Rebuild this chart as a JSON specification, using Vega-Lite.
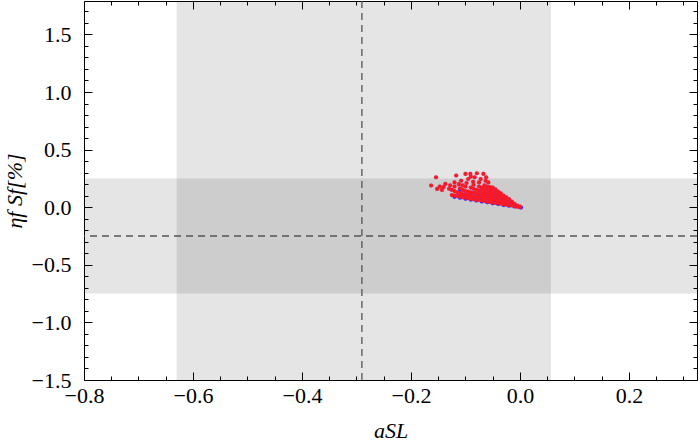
{
  "$schema": "https://vega.github.io/schema/vega-lite/v6.json",
  "width": 613,
  "height": 379,
  "autosize": {"type": "none"},
  "padding": {"left": 84, "top": 1, "right": 3, "bottom": 65},
  "config": {
    "view": {"stroke": "black", "strokeWidth": 1},
    "axis": {
      "domain": false, "grid": false,
      "labelFont": "Liberation Serif", "labelFontSize": 22, "labelColor": "black",
      "tickColor": "black", "tickWidth": 1,
      "titleFont": "Liberation Serif", "titleFontWeight": "normal", "titleColor": "black", "titleFontSize": 22
    }
  },
  "datasets": {
    "bands": [
      {"x1": -0.63, "x2": 0.057, "y1": -1.5, "y2": 1.79},
      {"x1": -0.8, "x2": 0.325, "y1": -0.75, "y2": 0.25}
    ],
    "pts": [
      {"x": -0.12, "y": 0.09, "s": "blue"}, {"x": -0.11, "y": 0.082, "s": "blue"}, {"x": -0.1, "y": 0.074, "s": "blue"},
      {"x": -0.09, "y": 0.066, "s": "blue"}, {"x": -0.08, "y": 0.058, "s": "blue"}, {"x": -0.07, "y": 0.05, "s": "blue"},
      {"x": -0.06, "y": 0.043, "s": "blue"}, {"x": -0.05, "y": 0.035, "s": "blue"}, {"x": -0.04, "y": 0.028, "s": "blue"},
      {"x": -0.03, "y": 0.02, "s": "blue"}, {"x": -0.02, "y": 0.013, "s": "blue"}, {"x": -0.01, "y": 0.006, "s": "blue"},
      {"x": 0.002, "y": -0.003, "s": "blue"}, {"x": -0.065, "y": 0.13, "s": "blue"}, {"x": -0.09, "y": 0.12, "s": "blue"},
      {"x": -0.045, "y": 0.1, "s": "blue"}, {"x": -0.11, "y": 0.15, "s": "blue"},
      {"x": 0, "y": 0, "s": "red"}, {"x": 0, "y": 0.005, "s": "red"},
      {"x": -0.005, "y": 0.005, "s": "red"}, {"x": -0.005, "y": 0.015, "s": "red"},
      {"x": -0.01, "y": 0.01, "s": "red"}, {"x": -0.01, "y": 0.03, "s": "red"},
      {"x": -0.015, "y": 0.015, "s": "red"}, {"x": -0.015, "y": 0.035, "s": "red"}, {"x": -0.015, "y": 0.05, "s": "red"},
      {"x": -0.02, "y": 0.02, "s": "red"}, {"x": -0.02, "y": 0.045, "s": "red"}, {"x": -0.02, "y": 0.07, "s": "red"},
      {"x": -0.025, "y": 0.022, "s": "red"}, {"x": -0.025, "y": 0.045, "s": "red"}, {"x": -0.025, "y": 0.065, "s": "red"}, {"x": -0.025, "y": 0.085, "s": "red"},
      {"x": -0.03, "y": 0.026, "s": "red"}, {"x": -0.03, "y": 0.05, "s": "red"}, {"x": -0.03, "y": 0.075, "s": "red"}, {"x": -0.03, "y": 0.1, "s": "red"},
      {"x": -0.035, "y": 0.03, "s": "red"}, {"x": -0.035, "y": 0.055, "s": "red"}, {"x": -0.035, "y": 0.08, "s": "red"}, {"x": -0.035, "y": 0.105, "s": "red"}, {"x": -0.035, "y": 0.12, "s": "red"},
      {"x": -0.04, "y": 0.034, "s": "red"}, {"x": -0.04, "y": 0.06, "s": "red"}, {"x": -0.04, "y": 0.085, "s": "red"}, {"x": -0.04, "y": 0.11, "s": "red"}, {"x": -0.04, "y": 0.135, "s": "red"},
      {"x": -0.045, "y": 0.038, "s": "red"}, {"x": -0.045, "y": 0.063, "s": "red"}, {"x": -0.045, "y": 0.09, "s": "red"}, {"x": -0.045, "y": 0.115, "s": "red"}, {"x": -0.045, "y": 0.14, "s": "red"}, {"x": -0.045, "y": 0.155, "s": "red"},
      {"x": -0.05, "y": 0.042, "s": "red"}, {"x": -0.05, "y": 0.068, "s": "red"}, {"x": -0.05, "y": 0.095, "s": "red"}, {"x": -0.05, "y": 0.12, "s": "red"}, {"x": -0.05, "y": 0.145, "s": "red"}, {"x": -0.05, "y": 0.17, "s": "red"},
      {"x": -0.055, "y": 0.046, "s": "red"}, {"x": -0.055, "y": 0.072, "s": "red"}, {"x": -0.055, "y": 0.1, "s": "red"}, {"x": -0.055, "y": 0.125, "s": "red"}, {"x": -0.055, "y": 0.15, "s": "red"}, {"x": -0.055, "y": 0.175, "s": "red"},
      {"x": -0.06, "y": 0.05, "s": "red"}, {"x": -0.06, "y": 0.075, "s": "red"}, {"x": -0.06, "y": 0.1, "s": "red"}, {"x": -0.06, "y": 0.125, "s": "red"}, {"x": -0.06, "y": 0.15, "s": "red"}, {"x": -0.06, "y": 0.18, "s": "red"},
      {"x": -0.065, "y": 0.054, "s": "red"}, {"x": -0.065, "y": 0.08, "s": "red"}, {"x": -0.065, "y": 0.105, "s": "red"}, {"x": -0.065, "y": 0.13, "s": "red"}, {"x": -0.065, "y": 0.16, "s": "red"}, {"x": -0.065, "y": 0.19, "s": "red"},
      {"x": -0.07, "y": 0.058, "s": "red"}, {"x": -0.07, "y": 0.085, "s": "red"}, {"x": -0.07, "y": 0.11, "s": "red"}, {"x": -0.07, "y": 0.14, "s": "red"}, {"x": -0.07, "y": 0.17, "s": "red"},
      {"x": -0.075, "y": 0.062, "s": "red"}, {"x": -0.075, "y": 0.09, "s": "red"}, {"x": -0.075, "y": 0.115, "s": "red"}, {"x": -0.075, "y": 0.145, "s": "red"}, {"x": -0.075, "y": 0.18, "s": "red"},
      {"x": -0.08, "y": 0.066, "s": "red"}, {"x": -0.08, "y": 0.09, "s": "red"}, {"x": -0.08, "y": 0.12, "s": "red"}, {"x": -0.08, "y": 0.15, "s": "red"},
      {"x": -0.085, "y": 0.07, "s": "red"}, {"x": -0.085, "y": 0.095, "s": "red"}, {"x": -0.085, "y": 0.125, "s": "red"}, {"x": -0.085, "y": 0.16, "s": "red"},
      {"x": -0.09, "y": 0.074, "s": "red"}, {"x": -0.09, "y": 0.1, "s": "red"}, {"x": -0.09, "y": 0.13, "s": "red"}, {"x": -0.09, "y": 0.17, "s": "red"},
      {"x": -0.095, "y": 0.078, "s": "red"}, {"x": -0.095, "y": 0.105, "s": "red"}, {"x": -0.095, "y": 0.135, "s": "red"},
      {"x": -0.1, "y": 0.083, "s": "red"}, {"x": -0.1, "y": 0.11, "s": "red"}, {"x": -0.1, "y": 0.14, "s": "red"}, {"x": -0.1, "y": 0.18, "s": "red"},
      {"x": -0.105, "y": 0.088, "s": "red"}, {"x": -0.105, "y": 0.115, "s": "red"}, {"x": -0.105, "y": 0.15, "s": "red"},
      {"x": -0.11, "y": 0.092, "s": "red"}, {"x": -0.11, "y": 0.12, "s": "red"}, {"x": -0.11, "y": 0.165, "s": "red"},
      {"x": -0.115, "y": 0.097, "s": "red"}, {"x": -0.115, "y": 0.13, "s": "red"},
      {"x": -0.12, "y": 0.1, "s": "red"}, {"x": -0.12, "y": 0.14, "s": "red"}, {"x": -0.12, "y": 0.18, "s": "red"},
      {"x": -0.125, "y": 0.105, "s": "red"}, {"x": -0.125, "y": 0.15, "s": "red"},
      {"x": -0.163, "y": 0.188, "s": "red"}, {"x": -0.152, "y": 0.159, "s": "red"}, {"x": -0.143, "y": 0.15, "s": "red"},
      {"x": -0.137, "y": 0.202, "s": "red"}, {"x": -0.154, "y": 0.26, "s": "red"}, {"x": -0.117, "y": 0.275, "s": "red"},
      {"x": -0.1, "y": 0.289, "s": "red"}, {"x": -0.091, "y": 0.289, "s": "red"}, {"x": -0.079, "y": 0.295, "s": "red"},
      {"x": -0.067, "y": 0.289, "s": "red"}, {"x": -0.13, "y": 0.16, "s": "red"}, {"x": -0.128, "y": 0.19, "s": "red"},
      {"x": -0.112, "y": 0.2, "s": "red"}, {"x": -0.108, "y": 0.23, "s": "red"}, {"x": -0.098, "y": 0.21, "s": "red"},
      {"x": -0.095, "y": 0.245, "s": "red"}, {"x": -0.086, "y": 0.22, "s": "red"}, {"x": -0.083, "y": 0.26, "s": "red"},
      {"x": -0.075, "y": 0.215, "s": "red"}, {"x": -0.072, "y": 0.245, "s": "red"}, {"x": -0.063, "y": 0.23, "s": "red"},
      {"x": -0.058, "y": 0.215, "s": "red"}, {"x": -0.085, "y": 0.195, "s": "red"}, {"x": -0.12, "y": 0.215, "s": "red"},
      {"x": -0.14, "y": 0.175, "s": "red"}, {"x": -0.147, "y": 0.18, "s": "red"}, {"x": -0.105, "y": 0.19, "s": "red"},
      {"x": -0.09, "y": 0.265, "s": "red"}, {"x": -0.062, "y": 0.26, "s": "red"}
    ]
  },
  "layer": [
    {
      "data": {"name": "bands"},
      "mark": {"type": "rect", "color": "black", "opacity": 0.1},
      "encoding": {
        "x": {"field": "x1", "type": "quantitative",
              "scale": {"domain": [-0.8, 0.325], "nice": false, "zero": false},
              "axis": {"orient": "top", "labels": false, "title": null,
                       "values": [-0.8, -0.75, -0.7, -0.65, -0.6, -0.55, -0.5, -0.45, -0.4, -0.35, -0.3, -0.25, -0.2, -0.15, -0.1, -0.05, 0, 0.05, 0.1, 0.15, 0.2, 0.25, 0.3],
                       "tickSize": {"condition": {"test": "abs(datum.value*5 - round(datum.value*5)) < 0.001", "value": -8}, "value": -4}}},
        "x2": {"field": "x2"},
        "y": {"field": "y1", "type": "quantitative",
              "scale": {"domain": [-1.5, 1.79], "nice": false, "zero": false},
              "axis": {"orient": "right", "labels": false, "title": null,
                       "values": [-1.5, -1.4, -1.3, -1.2, -1.1, -1.0, -0.9, -0.8, -0.7, -0.6, -0.5, -0.4, -0.3, -0.2, -0.1, 0, 0.1, 0.2, 0.3, 0.4, 0.5, 0.6, 0.7, 0.8, 0.9, 1.0, 1.1, 1.2, 1.3, 1.4, 1.5, 1.6, 1.7],
                       "tickSize": {"condition": {"test": "abs(datum.value*2 - round(datum.value*2)) < 0.001", "value": -8}, "value": -4}}},
        "y2": {"field": "y2"}
      }
    },
    {
      "data": {"values": [{"xv": -0.29}]},
      "mark": {"type": "rule", "color": "#555555", "strokeWidth": 1.3, "strokeDash": [7, 5]},
      "encoding": {"x": {"field": "xv", "type": "quantitative", "axis": null}}
    },
    {
      "data": {"values": [{"yv": -0.25}]},
      "mark": {"type": "rule", "color": "#555555", "strokeWidth": 1.3, "strokeDash": [7, 5]},
      "encoding": {"y": {"field": "yv", "type": "quantitative", "axis": null}}
    },
    {
      "data": {"name": "pts"},
      "mark": {"type": "circle", "size": 17, "opacity": 1, "stroke": "#8a2be2", "strokeWidth": 0.3, "strokeOpacity": 0.5},
      "encoding": {
        "x": {"field": "x", "type": "quantitative",
              "axis": {"orient": "bottom", "title": "aSL", "titleFontStyle": "italic", "titlePadding": 14, "labelPadding": 13, "labelFlush": false,
                       "values": [-0.8, -0.75, -0.7, -0.65, -0.6, -0.55, -0.5, -0.45, -0.4, -0.35, -0.3, -0.25, -0.2, -0.15, -0.1, -0.05, 0, 0.05, 0.1, 0.15, 0.2, 0.25, 0.3],
                       "labelExpr": "abs(datum.value*5 - round(datum.value*5)) < 0.001 ? format(datum.value, '.1f') : ''",
                       "tickSize": {"condition": {"test": "abs(datum.value*5 - round(datum.value*5)) < 0.001", "value": -8}, "value": -4}}},
        "y": {"field": "y", "type": "quantitative",
              "axis": {"orient": "left", "title": "ηf Sf[%]", "titleFontStyle": "italic", "titlePadding": 5, "labelPadding": 21, "labelFlush": false,
                       "values": [-1.5, -1.4, -1.3, -1.2, -1.1, -1.0, -0.9, -0.8, -0.7, -0.6, -0.5, -0.4, -0.3, -0.2, -0.1, 0, 0.1, 0.2, 0.3, 0.4, 0.5, 0.6, 0.7, 0.8, 0.9, 1.0, 1.1, 1.2, 1.3, 1.4, 1.5, 1.6, 1.7],
                       "labelExpr": "abs(datum.value*2 - round(datum.value*2)) < 0.001 ? format(datum.value, '.1f') : ''",
                       "tickSize": {"condition": {"test": "abs(datum.value*2 - round(datum.value*2)) < 0.001", "value": -8}, "value": -4}}},
        "color": {"field": "s", "type": "nominal", "scale": {"domain": ["blue", "red"], "range": ["#2a2aff", "#ff1a1a"]}, "legend": null}
      }
    }
  ],
  "resolve": {"axis": {"x": "independent", "y": "independent"}}
}
